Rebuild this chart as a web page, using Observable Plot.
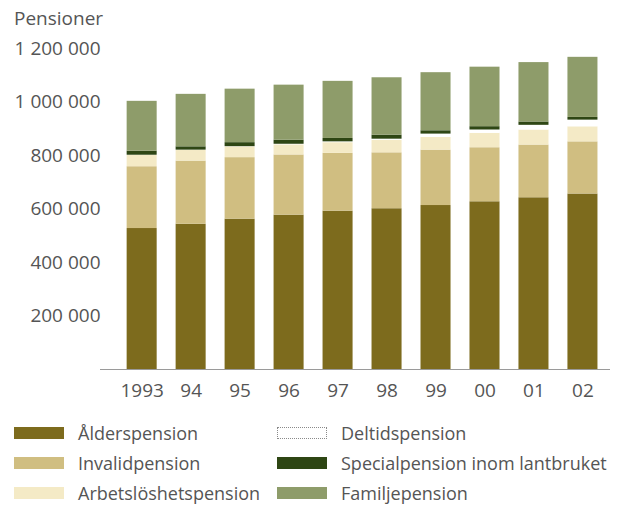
<!DOCTYPE html>
<html>
<head>
<meta charset="utf-8">
<script src="https://cdn.jsdelivr.net/npm/d3@7"></script>
<script src="https://cdn.jsdelivr.net/npm/@observablehq/plot@0.6"></script>
<style>
  html, body { margin: 0; padding: 0; background: #fff; }
  #wrap { position: relative; width: 627px; height: 506px; font-family: "Open Sans", sans-serif; color: #555; overflow: hidden; }
  #ylabel { position: absolute; left: 14px; top: 9px; font-size: 19px; line-height: 19px; }
  #chart { position: absolute; left: 0; top: 0; }
  .item { position: absolute; height: 30px; display: flex; align-items: center; font-size: 18px; white-space: nowrap; }
  .sw { width: 50px; height: 12px; margin-right: 14px; box-sizing: border-box; }
</style>
</head>
<body>
<div id="wrap">
  <div id="chart"></div>
  <div id="ylabel">Pensioner</div>
  <div id="legend"></div>
</div>
<script>
const years = ["1993", "94", "95", "96", "97", "98", "99", "00", "01", "02"];
const series = ["Ålderspension", "Invalidpension", "Arbetslöshetspension", "Deltidspension", "Specialpension inom lantbruket", "Familjepension"];
const colors = ["#7d6b1d", "#d0be81", "#f4eac6", "#ffffff", "#2e4614", "#8e9c6a"];

const alder   = [527000, 543000, 562000, 577000, 592000, 601000, 613000, 627000, 642000, 656000];
const invalid = [231000, 236000, 230000, 225000, 216000, 209000, 207000, 202000, 197000, 195000];
const arbets  = [42000, 40000, 40000, 38000, 40000, 47000, 47600, 53900, 56200, 56200];
const deltid  = [1000, 1000, 1000, 2000, 3000, 4000, 12400, 12400, 17600, 25000];
const special = [15000, 12400, 15000, 15000, 12700, 15000, 12400, 12400, 12400, 10100];
const familj  = [186500, 196200, 200000, 206000, 213500, 214600, 217200, 222500, 222100, 224700];

const yTicks = [200000, 400000, 600000, 800000, 1000000, 1200000];

const valuesBySeries = [alder, invalid, arbets, deltid, special, familj];
const table = [];
series.forEach((s, si) => {
  years.forEach((y, yi) => table.push({year: y, series: s, value: valuesBySeries[si][yi]}));
});

const fmt = d => d3.format(",")(d).replace(/,/g, " ");

const chart = Plot.plot({
  width: 627,
  height: 410,
  marginTop: 48,
  marginBottom: 41,
  marginLeft: 100,
  marginRight: 17,
  style: {fontFamily: "Open Sans, sans-serif", fontSize: "19px", color: "#555", background: "transparent"},
  x: {type: "band", domain: years, paddingInner: 0.387, paddingOuter: 0.4, align: 0.68, round: false, label: null},
  y: {domain: [0, 1200000], label: null},
  color: {domain: series, range: colors},
  marks: [
    Plot.barY(table, Plot.stackY({order: series}, {x: "year", y: "value", fill: "series"})),
    Plot.ruleY([0], {stroke: "#9a9a9a", strokeWidth: 1}),
    Plot.axisY({ticks: yTicks, tickFormat: fmt, tickSize: 0, tickPadding: 0, label: null, fill: "#555"}),
    Plot.axisX({tickSize: 0, tickPadding: 14, label: null, fill: "#555"})
  ]
});
document.getElementById("chart").appendChild(chart);

// legend
const legend = document.getElementById("legend");
const colX = [14, 277];
const rowY = [433, 463, 493];
series.forEach((s, i) => {
  const col = Math.floor(i / 3), row = i % 3;
  const item = document.createElement("div");
  item.className = "item";
  item.style.left = colX[col] + "px";
  item.style.top = (rowY[row] - 15) + "px";
  const sw = document.createElement("div");
  sw.className = "sw";
  sw.style.background = colors[i];
  if (colors[i] === "#ffffff") sw.style.border = "1px dotted #8a8a8a";
  const t = document.createElement("span");
  t.textContent = s;
  item.appendChild(sw);
  item.appendChild(t);
  legend.appendChild(item);
});
</script>
</body>
</html>
